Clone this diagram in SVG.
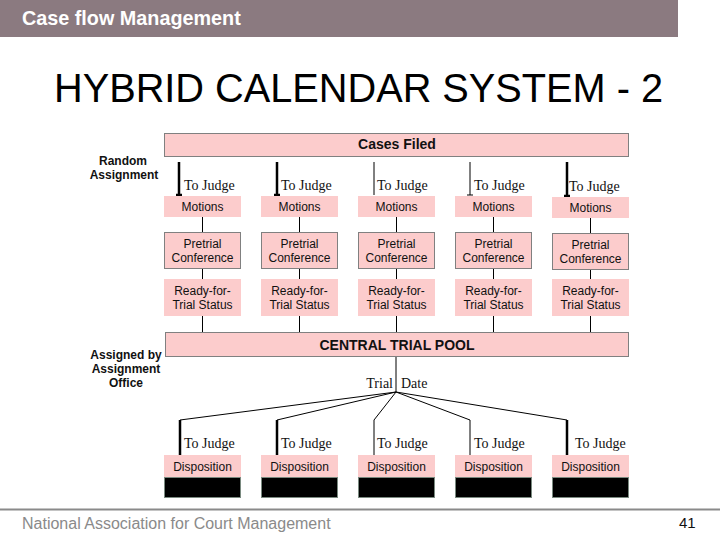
<svg xmlns="http://www.w3.org/2000/svg" width="720" height="540" viewBox="0 0 720 540">
<defs>
<style>
.box{fill:#fccccc;}
.bb{fill:#fccccc;stroke:#808080;stroke-width:1;}
.blk{fill:#000;stroke:#7a8a80;stroke-width:1;}
.bt{font-family:"Liberation Sans",Arial,sans-serif;font-size:12px;fill:#111;text-anchor:middle;}
.bold{font-weight:bold;font-size:14px;}
.lbl{font-family:"Liberation Sans",Arial,sans-serif;font-size:12px;font-weight:bold;fill:#111;text-anchor:middle;}
.tj{font-family:"Liberation Serif","Times New Roman",serif;font-size:14px;fill:#111;}
.ln{stroke:#000;stroke-width:1;fill:none;}
.thk{stroke:#000;stroke-width:2.5;fill:none;}
</style>
</defs>
<rect width="720" height="540" fill="#fff"/>
<rect x="0" y="0" width="678" height="37" fill="#8b7a80"/>
<text x="22" y="25" font-family="Liberation Sans,Arial,sans-serif" font-size="19.8" font-weight="bold" fill="#fff">Case flow Management</text>
<text x="54" y="102" font-family="Liberation Sans,Arial,sans-serif" font-size="40" fill="#000" textLength="609" lengthAdjust="spacingAndGlyphs">HYBRID CALENDAR SYSTEM - 2</text>

<g id="cases-filed"><rect class="bb" x="164.5" y="133.5" width="464" height="23"/><text class="bt bold" x="397" y="149">Cases Filed</text></g>
<g id="random-assignment"><text class="lbl" x="123" y="165">Random</text><text class="lbl" x="124" y="179">Assignment</text></g>
<g id="assigned-office"><text class="lbl" x="126" y="359">Assigned by</text><text class="lbl" x="126" y="373">Assignment</text><text class="lbl" x="126" y="387">Office</text></g>

<g id="connectors">
<path class="thk" d="M179 162V195M176 195H182"/>
<path class="thk" d="M277 162V195M274 195H280"/>
<path class="ln" d="M374 162V195"/>
<path class="ln" d="M470 162V195M467 195H473"/>
<path class="thk" d="M567 162V196M564 196H570"/>
<path class="ln" d="M202.5 217V232M202.5 269V279M202.5 316V332"/>
<path class="ln" d="M299.5 217V232M299.5 269V279M299.5 316V332"/>
<path class="ln" d="M396.5 217V232M396.5 269V279M396.5 316V332"/>
<path class="ln" d="M493.5 217V232M493.5 269V279M493.5 316V332"/>
<path class="ln" d="M590.5 218V233M590.5 270V279M590.5 316V332"/>
<path class="ln" d="M396 357V392"/>
<path class="ln" d="M396 392L180 420M396 392L277 420M396 392L374 420M396 392L470 420M396 392L567 420"/>
<path class="thk" d="M180 420V455M277 420V455M567 420V455"/>
<path class="ln" d="M374 420V455M470 420V455"/>
</g>

<g id="to-judge-top">
<text class="tj" x="184" y="190">To Judge</text>
<text class="tj" x="281" y="190">To Judge</text>
<text class="tj" x="377" y="190">To Judge</text>
<text class="tj" x="474" y="190">To Judge</text>
<text class="tj" x="569" y="191">To Judge</text>
</g>

<g id="col1"><rect class="box" x="164" y="196" width="77" height="21"/><text class="bt" x="202.5" y="211">Motions</text>
<rect class="bb" x="164.5" y="232.5" width="76" height="36"/><text class="bt" x="202.5" y="248">Pretrial</text><text class="bt" x="202.5" y="262">Conference</text>
<rect class="box" x="164" y="279" width="77" height="37"/><text class="bt" x="202.5" y="295">Ready-for-</text><text class="bt" x="202.5" y="309">Trial Status</text></g>
<g id="col2"><rect class="box" x="261" y="196" width="77" height="21"/><text class="bt" x="299.5" y="211">Motions</text>
<rect class="bb" x="261.5" y="232.5" width="76" height="36"/><text class="bt" x="299.5" y="248">Pretrial</text><text class="bt" x="299.5" y="262">Conference</text>
<rect class="box" x="261" y="279" width="77" height="37"/><text class="bt" x="299.5" y="295">Ready-for-</text><text class="bt" x="299.5" y="309">Trial Status</text></g>
<g id="col3"><rect class="box" x="358" y="196" width="77" height="21"/><text class="bt" x="396.5" y="211">Motions</text>
<rect class="bb" x="358.5" y="232.5" width="76" height="36"/><text class="bt" x="396.5" y="248">Pretrial</text><text class="bt" x="396.5" y="262">Conference</text>
<rect class="box" x="358" y="279" width="77" height="37"/><text class="bt" x="396.5" y="295">Ready-for-</text><text class="bt" x="396.5" y="309">Trial Status</text></g>
<g id="col4"><rect class="box" x="455" y="196" width="77" height="21"/><text class="bt" x="493.5" y="211">Motions</text>
<rect class="bb" x="455.5" y="232.5" width="76" height="36"/><text class="bt" x="493.5" y="248">Pretrial</text><text class="bt" x="493.5" y="262">Conference</text>
<rect class="box" x="455" y="279" width="77" height="37"/><text class="bt" x="493.5" y="295">Ready-for-</text><text class="bt" x="493.5" y="309">Trial Status</text></g>
<g id="col5"><rect class="box" x="552" y="197" width="77" height="21"/><text class="bt" x="590.5" y="212">Motions</text>
<rect class="bb" x="552.5" y="233.5" width="76" height="36"/><text class="bt" x="590.5" y="249">Pretrial</text><text class="bt" x="590.5" y="263">Conference</text>
<rect class="box" x="552" y="279" width="77" height="37"/><text class="bt" x="590.5" y="295">Ready-for-</text><text class="bt" x="590.5" y="309">Trial Status</text></g>

<g id="central-pool"><rect class="bb" x="165.5" y="332.5" width="463" height="24"/><text class="bt bold" x="397" y="350">CENTRAL TRIAL POOL</text></g>
<g id="trial-date"><text class="tj" x="393" y="388" text-anchor="end">Trial</text><text class="tj" x="401" y="388">Date</text></g>

<g id="to-judge-bottom">
<text class="tj" x="184" y="448">To Judge</text>
<text class="tj" x="281" y="448">To Judge</text>
<text class="tj" x="377" y="448">To Judge</text>
<text class="tj" x="474" y="448">To Judge</text>
<text class="tj" x="575" y="448">To Judge</text>
</g>

<g id="disp1"><rect class="box" x="164" y="455" width="77" height="22"/><rect class="blk" x="164.5" y="477.5" width="76" height="20"/><text class="bt" x="202.5" y="471">Disposition</text></g>
<g id="disp2"><rect class="box" x="261" y="455" width="77" height="22"/><rect class="blk" x="261.5" y="477.5" width="76" height="20"/><text class="bt" x="299.5" y="471">Disposition</text></g>
<g id="disp3"><rect class="box" x="358" y="455" width="77" height="22"/><rect class="blk" x="358.5" y="477.5" width="76" height="20"/><text class="bt" x="396.5" y="471">Disposition</text></g>
<g id="disp4"><rect class="box" x="455" y="455" width="77" height="22"/><rect class="blk" x="455.5" y="477.5" width="76" height="20"/><text class="bt" x="493.5" y="471">Disposition</text></g>
<g id="disp5"><rect class="box" x="552" y="455" width="77" height="22"/><rect class="blk" x="552.5" y="477.5" width="76" height="20"/><text class="bt" x="590.5" y="471">Disposition</text></g>

<line x1="0" y1="509.5" x2="720" y2="509.5" stroke="#8a8a8a" stroke-width="2"/>
<text x="22" y="529" font-family="Liberation Sans,Arial,sans-serif" font-size="16" fill="#8a8a8a">National Association for Court Management</text>
<text x="679" y="528" font-family="Liberation Sans,Arial,sans-serif" font-size="15" fill="#111">41</text>
</svg>
